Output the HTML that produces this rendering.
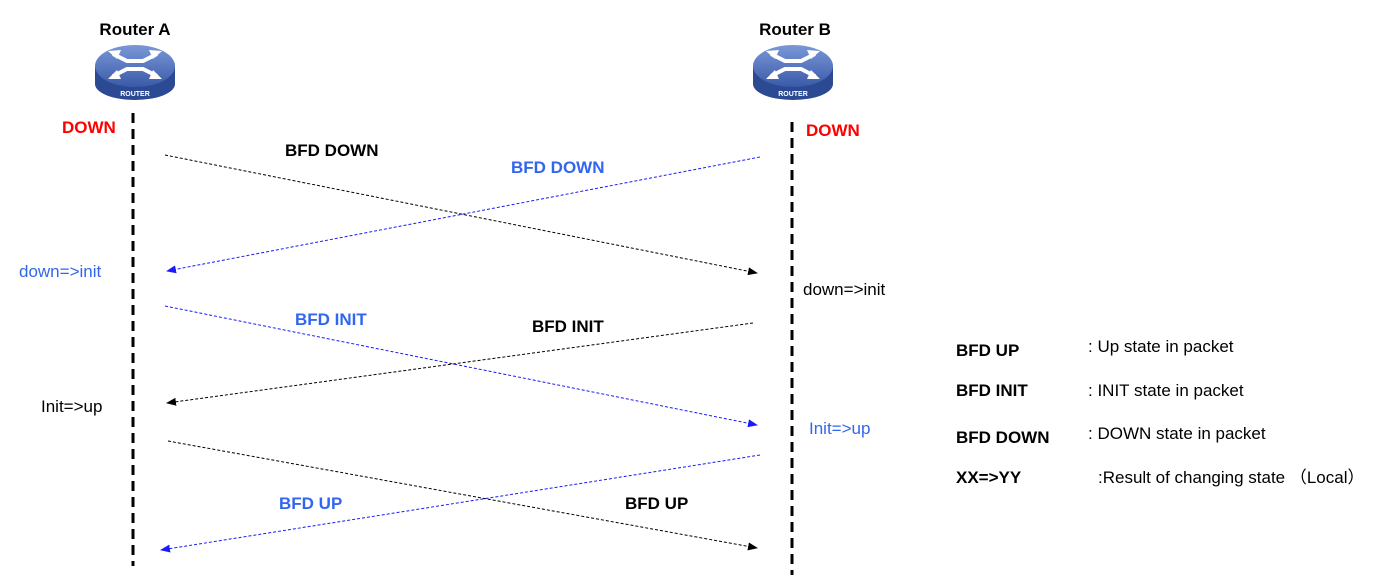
<!DOCTYPE html>
<html><head><meta charset="utf-8"><style>
body{margin:0;background:#fff}
svg text{font-family:"Liberation Sans",Arial,sans-serif}
</style></head><body>
<svg width="1377" height="581" viewBox="0 0 1377 581" xmlns="http://www.w3.org/2000/svg">
<defs>
<marker id="ak" markerWidth="10" markerHeight="8" refX="9" refY="4" orient="auto" markerUnits="userSpaceOnUse"><path d="M0,0 L10,4 L0,8 z" fill="#000"/></marker>
<marker id="ab" markerWidth="10" markerHeight="8" refX="9" refY="4" orient="auto" markerUnits="userSpaceOnUse"><path d="M0,0 L10,4 L0,8 z" fill="#1a1aff"/></marker>
<linearGradient id="rg" x1="0" y1="0" x2="0" y2="1"><stop offset="0" stop-color="#7a98d8"/><stop offset="1" stop-color="#3a5aa8"/></linearGradient>
<g id="router">
<path d="M-40,-6 L-40,12 A40,16 0 0 0 40,12 L40,-6 z" fill="#2c4a94"/>
<ellipse cx="0" cy="-6" rx="40" ry="21" fill="url(#rg)"/>
<g stroke="#fff" stroke-width="4" fill="none">
<path d="M-22,-18 L-8,-11 L8,-11 L22,-18"/><path d="M-22,4 L-8,-3 L8,-3 L22,4"/>
</g>
<g fill="#fff"><path d="M-27,-21 L-14,-22 L-18,-13z"/><path d="M27,-21 L14,-22 L18,-13z"/><path d="M-27,7 L-18,-2 L-14,7z"/><path d="M27,7 L18,-2 L14,7z"/></g>
<text x="0" y="24" font-size="7" font-weight="bold" fill="#fff" text-anchor="middle">ROUTER</text>
</g>
</defs>
<text x="135" y="35" font-size="17" font-weight="bold" text-anchor="middle">Router A</text>
<text x="795" y="35" font-size="17" font-weight="bold" text-anchor="middle">Router B</text>
<use href="#router" x="135" y="72"/>
<use href="#router" x="793" y="72"/>
<line x1="133" y1="113" x2="133" y2="566" stroke="#000" stroke-width="3" stroke-dasharray="10,6"/>
<line x1="792" y1="122" x2="792" y2="575" stroke="#000" stroke-width="3" stroke-dasharray="10,6"/>
<g stroke-width="1" stroke-dasharray="3,2" fill="none">
<line x1="165" y1="155" x2="757" y2="273" stroke="#000" marker-end="url(#ak)"/>
<line x1="760" y1="157" x2="167" y2="271" stroke="#1a1aff" marker-end="url(#ab)"/>
<line x1="165" y1="306" x2="757" y2="425" stroke="#1a1aff" marker-end="url(#ab)"/>
<line x1="753" y1="323" x2="167" y2="403" stroke="#000" marker-end="url(#ak)"/>
<line x1="168" y1="441" x2="757" y2="548" stroke="#000" marker-end="url(#ak)"/>
<line x1="760" y1="455" x2="161" y2="550" stroke="#1a1aff" marker-end="url(#ab)"/>
</g>
<g font-size="17" font-weight="bold">
<text x="62" y="133" fill="#f00">DOWN</text>
<text x="806" y="136" fill="#f00">DOWN</text>
<text x="285" y="156">BFD DOWN</text>
<text x="511" y="173" fill="#3366ee">BFD DOWN</text>
<text x="295" y="325" fill="#3366ee">BFD INIT</text>
<text x="532" y="332">BFD INIT</text>
<text x="279" y="509" fill="#3366ee">BFD UP</text>
<text x="625" y="509">BFD UP</text>
<text x="956" y="356">BFD UP</text>
<text x="956" y="396">BFD INIT</text>
<text x="956" y="443">BFD DOWN</text>
<text x="956" y="483">XX=&gt;YY</text>
</g>
<g font-size="17">
<text x="19" y="277" fill="#3366ee">down=&gt;init</text>
<text x="803" y="295">down=&gt;init</text>
<text x="41" y="412">Init=&gt;up</text>
<text x="809" y="434" fill="#3366ee">Init=&gt;up</text>
<text x="1088" y="352">: Up state in packet</text>
<text x="1088" y="396">: INIT state in packet</text>
<text x="1088" y="439">: DOWN state in packet</text>
<text x="1098" y="483">:Result of changing state （Local）</text>
</g>
</svg>
</body></html>
